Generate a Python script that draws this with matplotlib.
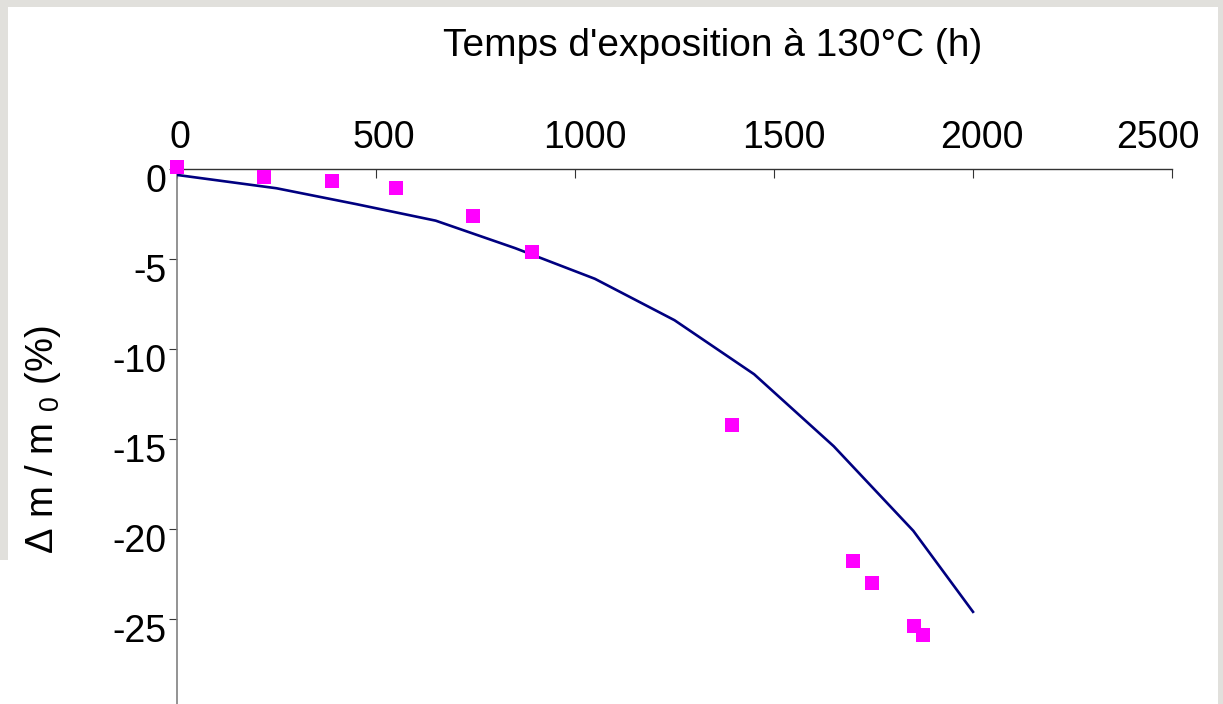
import matplotlib
matplotlib.use('Agg')
import matplotlib.pyplot as plt
from matplotlib.patches import Rectangle
from matplotlib.transforms import ScaledTranslation

plt.rcParams['font.family'] = ['Liberation Sans', 'DejaVu Sans']
plt.rcParams['mathtext.fontset'] = 'custom'
plt.rcParams['mathtext.rm'] = 'Liberation Sans'

# measured mass loss (%) vs exposure time (h)
temps_mesure = [0, 219, 390, 550, 743, 892, 1394, 1698, 1747, 1852, 1874]
dm_mesure = [0.1, -0.43, -0.67, -1.04, -2.61, -4.59, -14.2, -21.8, -23.0, -25.4, -25.9]

# model curve
temps_modele = [0, 250, 450, 650, 850, 1050, 1250, 1450, 1650, 1850, 2000]
dm_modele = [-0.33, -1.07, -1.95, -2.87, -4.4, -6.1, -8.4, -11.4, -15.4, -20.1, -24.6]

xticks = [0, 500, 1000, 1500, 2000, 2500]
yticks = [0, -5, -10, -15, -20, -25]

W, H = 1223, 704
fig = plt.figure(figsize=(W / 100, H / 100), dpi=100)
fig.patch.set_facecolor('white')

# grey window frame around the chart
grey = '#e1e0dc'
for x0, y0, w, h in [(0, H - 7, W, 7), (0, H - 560, 8, 560), (1218, 0, 5, H)]:
    fig.patches.append(Rectangle((x0 / W, y0 / H), w / W, h / H, transform=fig.transFigure,
                                 facecolor=grey, edgecolor='none', zorder=0))

ax = fig.add_axes([177 / W, 0, 995 / W, 535 / H])
ax.set_xlim(0, 2500)
ax.set_ylim(-29.72, 0)

ax.plot(temps_modele, dm_modele, color='#000080', lw=1.9, zorder=3)
ax.plot(temps_mesure, dm_mesure, ls='none', marker='s', ms=9.8, color='#ff00ff',
        mec='#ff00ff', mew=0, clip_on=False, zorder=4)

ax.spines['right'].set_visible(False)
ax.spines['bottom'].set_visible(False)
ax.spines['top'].set_color('#333333')
ax.spines['left'].set_color('#808080')
ax.spines['top'].set_linewidth(1.0)
ax.spines['left'].set_linewidth(1.2)

ax.xaxis.tick_top()
ax.set_xticks(xticks)
ax.set_yticks(yticks)
ax.set_xticklabels([str(v) for v in xticks])
ax.set_yticklabels([str(v) for v in yticks])
ax.tick_params(axis='x', direction='in', length=6.5, width=0.8, color='#333333',
               labelsize=27, pad=9.5)
ax.tick_params(axis='y', direction='out', length=5.8, width=0.8, color='#333333',
               labelsize=27, pad=2)

# the labels sit a little off their ticks in the original
x_shift = [3, 8, 10, 10, 9, -14]
for lab, dx in zip(ax.get_xticklabels(), x_shift):
    lab.set_transform(lab.get_transform() + ScaledTranslation(dx / 100, 0, fig.dpi_scale_trans))
for lab in ax.get_yticklabels():
    lab.set_transform(lab.get_transform() + ScaledTranslation(0, -8.5 / 100, fig.dpi_scale_trans))

fig.text(713 / W, 1 - 46 / H, "Temps d'exposition à 130°C (h)", ha='center', va='center',
         fontsize=28)
fig.text(43 / W, 1 - 440 / H, r"Δ m / m $_{\mathrm{0}}$ (%)", ha='center', va='center',
         rotation=90, fontsize=27.5)

fig.savefig('out.png', dpi=100)
